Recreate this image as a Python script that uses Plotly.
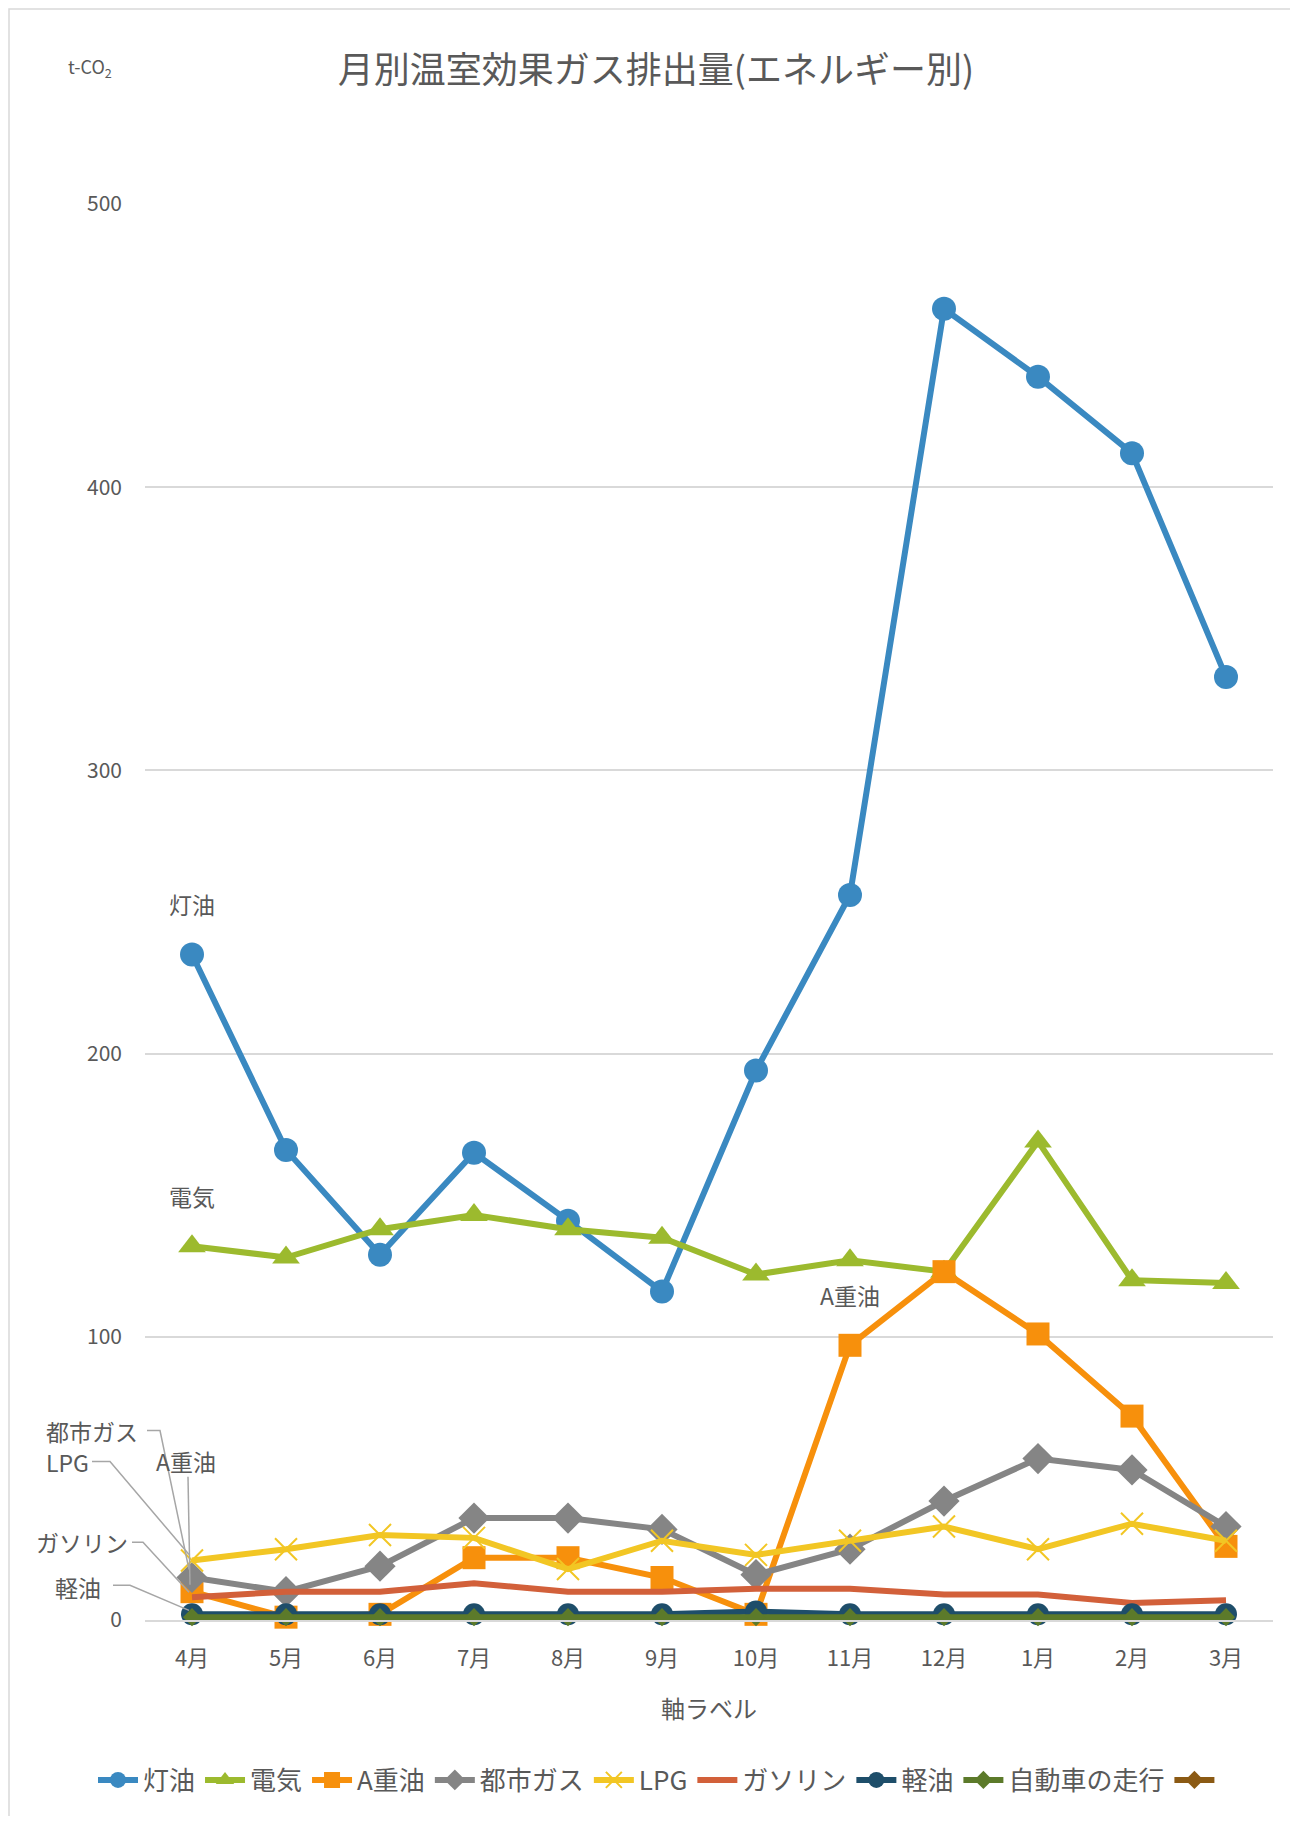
import plotly.graph_objects as go

months = ["4月", "5月", "6月", "7月", "8月", "9月", "10月", "11月", "12月", "1月", "2月", "3月"]

toyu = [235, 166, 129, 165, 141, 116, 194, 256, 463, 439, 412, 333]
denki = [132, 128, 138, 143, 138, 135, 122, 127, 123, 169, 120, 119]
a_juyu = [10, 1, 2, 22, 22, 15, 2, 97, 123, 101, 72, 26]
toshigas = [15, 10, 19, 36, 36, 32, 16, 25, 42, 57, 53, 33]
lpg = [21, 25, 30, 29, 18, 28, 23, 28, 33, 25, 34, 28]
gasoline = [8, 10, 10, 13, 10, 10, 11, 11, 9, 9, 6, 7]
keiyu = [2, 2, 2, 2, 2, 2, 3, 2, 2, 2, 2, 2]
jidosha = [1, 1, 1, 1, 1, 1, 1, 1, 1, 1, 1, 1]
unnamed = [None] * 12

series_names = ["灯油", "電気", "A重油", "都市ガス", "LPG", "ガソリン", "軽油", "自動車の走行", ""]
series_values = [toyu, denki, a_juyu, toshigas, lpg, gasoline, keiyu, jidosha, unnamed]
colors = ["#3A89C1", "#9CBA2E", "#F7900C", "#858585", "#F2C624", "#D2603A", "#1E4E6A", "#5C7A2A", "#8B5A14"]
symbols = ["circle", "triangle-up", "square", "diamond", "x-thin", None, "circle", "diamond", "diamond"]
msizes = [24, 24, 23, 24, 22, 0, 22, 14, 14]

y_ticks = [0, 100, 200, 300, 400, 500]

# page body has an 8px margin; the figure is sized to fit inside it
OFF = 8
W, H = 1298 - 2 * OFF, 1824 - 2 * OFF
ML, MT = 145 - OFF, 204 - OFF
MR = W - (1273 - OFF)
MB = H - (1620 - OFF)
pw = W - ML - MR
ph = H - MT - MB
FONT = "Noto Sans CJK JP, Noto Sans, sans-serif"
TXT = "#595959"

fig = go.Figure()
for name, vals, col, sym, ms in zip(series_names, series_values, colors, symbols, msizes):
    marker = dict(color=col, size=ms, symbol=sym if sym else "circle")
    if sym == "x-thin":
        marker["line"] = dict(color=col, width=2)
    mode = "lines+markers" if sym else "lines"
    fig.add_trace(go.Scatter(
        x=months, y=vals, name=name, mode=mode,
        line=dict(color=col, width=6),
        marker=marker, cliponaxis=False,
    ))

# labels above points
above = [("灯油", "4月", toyu[0]), ("電気", "4月", denki[0]), ("A重油", "11月", a_juyu[7])]
for t, xm, yv in above:
    fig.add_annotation(x=xm, y=yv, text=t, showarrow=False, yshift=50,
                       font=dict(family=FONT, size=23, color=TXT))

# leader-line labels at 4月: (text, value, text offset px (x, y-down), leader path offsets px (x, y-down))
leaders = [
    ("都市ガス", toshigas[0], (-100, -147), [(-45, -147), (-32, -147), (-3, -8)]),
    ("LPG", lpg[0], (-125, -99), [(-100, -99), (-82, -99), (-3, -6)]),
    ("A重油", a_juyu[0], (-6, -131), [(-4, -115), (-2, -7)]),
    ("ガソリン", gasoline[0], (-110, -55), [(-60, -55), (-49, -55), (-3, -5)]),
    ("軽油", keiyu[0], (-114, -27), [(-79, -29), (-62, -29), (-3, -4)]),
]
x_idx = months.index("4月")
x_paper = (x_idx + 0.5) / len(months)
for t, yv, (tx, ty), path_pts in leaders:
    fig.add_annotation(x="4月", y=yv, text=t, showarrow=False, xshift=tx, yshift=-ty,
                       font=dict(family=FONT, size=23, color=TXT))
    path = "M" + " L".join(f"{px},{-py}" for px, py in path_pts)
    fig.add_shape(type="path", xref="paper", yref="y",
                  xsizemode="pixel", ysizemode="pixel",
                  xanchor=x_paper, yanchor=yv, path=path,
                  line=dict(color="#A6A6A6", width=1.5))

# t-CO2 unit label
fig.add_annotation(xref="paper", yref="paper",
                   x=(90 - OFF - ML) / pw, y=1 + (MT - (67 - OFF)) / ph,
                   xanchor="center", yanchor="middle",
                   text="t-CO<sub>2</sub>", showarrow=False,
                   font=dict(family=FONT, size=18, color=TXT))

# outer chart border
fig.add_shape(type="rect", xref="paper", yref="paper",
              x0=(9 - OFF - ML) / pw, x1=(W + 20 - ML) / pw,
              y0=-(MB + 20) / ph, y1=1 + (MT - (9 - OFF)) / ph,
              line=dict(color="#D9D9D9", width=1.5), layer="below")

fig.update_layout(
    width=W, height=H,
    margin=dict(l=ML, r=MR, t=MT, b=MB),
    paper_bgcolor="white", plot_bgcolor="white",
    font=dict(family=FONT, color=TXT),
    title=dict(text="月別温室効果ガス排出量(エネルギー別)", x=(656 - OFF) / W, xanchor="center",
               y=1 - (70 - OFF) / H, yanchor="middle",
               font=dict(family=FONT, size=36, color=TXT)),
    showlegend=True,
    legend=dict(orientation="h", x=(659 - OFF - ML) / pw, xanchor="center",
                y=-((1780 - OFF) - (H - MB)) / ph, yanchor="middle",
                font=dict(family=FONT, size=26, color=TXT),
                itemwidth=40, tracegroupgap=0),
)
fig.update_xaxes(
    type="category", range=[-0.5, len(months) - 0.5], autorange=False,
    showgrid=False, showline=True, linecolor="#D9D9D9", linewidth=1.5,
    ticks="", ticklabelstandoff=18,
    tickfont=dict(family=FONT, size=22, color=TXT),
    title=dict(text="軸ラベル", standoff=30, font=dict(family=FONT, size=24, color=TXT)),
)
fig.update_yaxes(
    range=[0, 500], autorange=False, tickvals=y_ticks, showgrid=True, gridcolor="#D9D9D9", gridwidth=1.5,
    zeroline=False, showline=False, ticks="", ticklabelstandoff=22,
    tickfont=dict(family=FONT, size=21, color=TXT),
)

fig.write_html("out.html")
